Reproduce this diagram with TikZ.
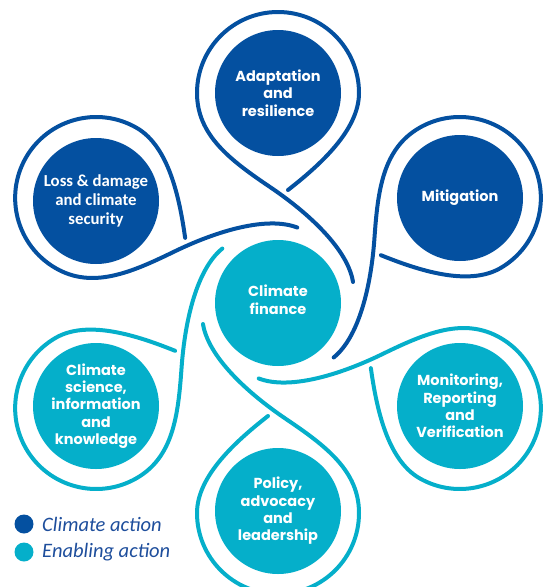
\documentclass[tikz,border=0pt]{standalone}
\usepackage{fontspec}
\setmainfont{Poppins}
\newfontfamily\carl{Carlito}
\definecolor{cblue}{RGB}{4,80,160}
\definecolor{ccyan}{RGB}{5,175,202}
\definecolor{legtext}{RGB}{30,78,156}
\tikzset{
  loopline/.style={line width=4pt, line cap=round},
  bubble/.style={circle, minimum size=126pt, inner sep=0pt, text=white, align=center,
    font=\fontsize{14.5}{17.4}\selectfont\bfseries},
  legdot/.style={circle, minimum size=19pt, inner sep=0pt},
  legtxt/.style={anchor=west, inner sep=0pt, text=legtext, font=\carl\itshape\fontsize{20.5}{22}\selectfont}
}
\def\looppath{(288,190) .. controls (320,165) and (359,130) .. (359,93)
  .. controls (359,48.3) and (322.7,12) .. (278,12)
  .. controls (233.3,12) and (197,48.3) .. (197,93)
  .. controls (197,135) and (230,160) .. (270,187)
  .. controls (310,214) and (348,250) .. (353,282)}
\begin{document}
\begin{tikzpicture}[x=1pt,y=-1pt]
\useasboundingbox (0,0) rectangle (547,587);
\foreach \a/\col in {0/cblue,-60/cblue,60/cblue,120/ccyan,-120/ccyan,180/ccyan}{
  \draw[loopline,draw=\col,rotate around={\a:(278,303)}] \looppath;
}
\node[bubble,fill=ccyan] (fin) at (278,303) {Climate\\finance\\[-10.4pt]};
\node[bubble,fill=cblue] (ada) at (278,93) {Adaptation\\and\\resilience};
\node[bubble,fill=cblue] (mit) at (460,198) {Mitigation};
\node[bubble,fill=cblue,font=\carl\bfseries\fontsize{16.8}{19}\selectfont] (loss) at (96,201) {Loss \& damage\\and climate\\security};
\node[bubble,fill=ccyan] (sci) at (96,406) {Climate\\science,\\information\\and\\knowledge};
\node[bubble,fill=ccyan] (mrv) at (460,406) {Monitoring,\\Reporting\\and\\Verification};
\node[bubble,fill=ccyan] (pol) at (278,511) {Policy,\\advocacy\\and\\leadership};
\node[legdot,fill=cblue] (d1) at (24,524) {};
\node[legdot,fill=ccyan] (d2) at (24,552) {};
\node[legtxt] (t1) at (42,524) {Climate action};
\node[legtxt] (t2) at (42,552) {Enabling action};
\end{tikzpicture}
\end{document}
